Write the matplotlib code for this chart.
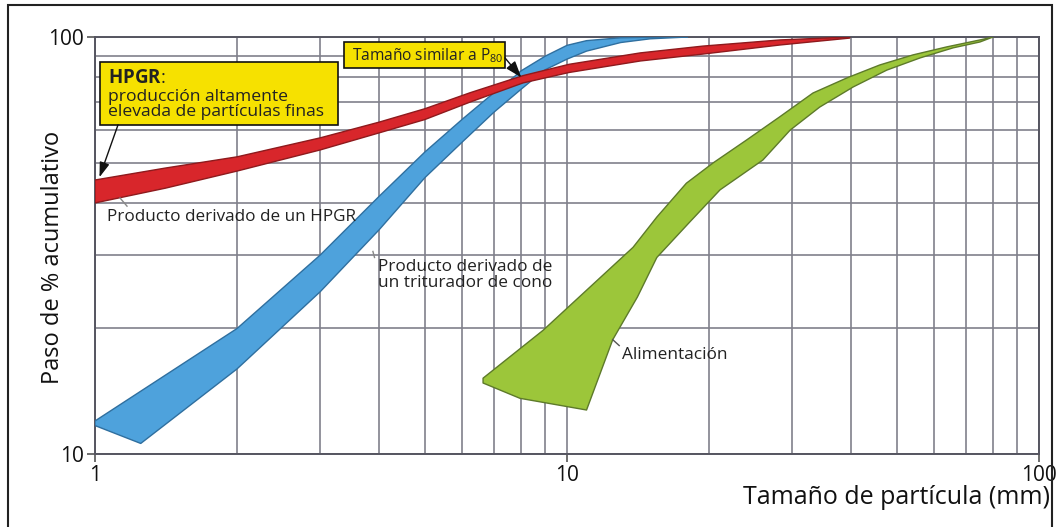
import matplotlib
matplotlib.use("Agg")
import matplotlib.pyplot as plt
from matplotlib.patches import Rectangle
from matplotlib.ticker import LogLocator, NullFormatter, FixedLocator, FixedFormatter

plt.rcParams['font.family'] = ['Open Sans', 'DejaVu Sans']
plt.rcParams['mathtext.fontset'] = 'custom'
plt.rcParams['mathtext.rm'] = 'Open Sans'
plt.rcParams['mathtext.bf'] = 'Open Sans:bold'

# --- Curve envelopes (particle size in mm, cumulative % passing) ---
# HPGR product band
red_top_x = [1, 1.41, 2, 3, 4, 5, 6.23, 8.07, 10.1, 14.3, 19.4, 28.3, 39.7]
red_top_y = [45.4, 48.5, 51.6, 57.3, 62.5, 67.3, 73.5, 80.8, 86.0, 91.6, 95.1, 98.4, 100]
red_bot_x = [1, 1.41, 2, 3, 4, 5, 6.23, 8.07, 10.1, 14.3, 19.4, 28.3, 39.7]
red_bot_y = [40.0, 43.4, 47.7, 53.6, 58.9, 63.4, 69.8, 77.6, 82.2, 87.6, 91.0, 95.7, 99.4]

# Cone crusher product band
blue_top_x = [1, 2, 3, 4, 5, 6, 7, 7.7, 8, 9, 10, 11, 13, 17]
blue_top_y = [12.0, 20.0, 30.0, 41.5, 53.0, 63.5, 73.5, 80.0, 83.0, 90.0, 95.5, 98.0, 99.6, 100]
blue_bot_x = [1, 1.25, 2, 3, 4, 5, 6, 7, 8, 8.63, 9, 10, 11, 13, 15, 18]
blue_bot_y = [11.7, 10.6, 16.0, 24.5, 34.5, 46.0, 56.0, 66.0, 75.0, 80.5, 83.5, 88.5, 92.5, 97.0, 99.0, 100]

# Feed band
green_top_x = [6.64, 8.9, 11.0, 13.8, 15.5, 17.9, 20.4, 24.0, 28.2, 33.2, 39.2, 46.0, 54.1, 63.8, 75.0, 79.9]
green_top_y = [15.2, 19.8, 24.7, 31.3, 37.0, 44.6, 49.9, 56.6, 64.3, 73.4, 79.8, 85.7, 90.6, 94.7, 98.4, 100]
green_bot_x = [6.64, 7.95, 11.0, 12.5, 14.1, 15.5, 18.2, 21.1, 26.0, 29.7, 34.3, 40.4, 47.6, 56.0, 65.8, 75.0, 79.9]
green_bot_y = [14.8, 13.6, 12.75, 18.8, 23.8, 29.6, 36.0, 43.0, 50.7, 59.8, 67.9, 75.9, 83.3, 89.1, 94.2, 97.3, 100]

x_ticks = [1, 10, 100]
x_tick_labels = ["1", "10", "100"]
y_ticks = [10, 100]
y_tick_labels = ["10", "100"]

fig = plt.figure(figsize=(10.6, 5.27), dpi=100)
ax = fig.add_axes([95 / 1060, 1 - 454 / 527, (1039 - 95) / 1060, (454 - 37) / 527])
ax.set_xscale('log')
ax.set_yscale('log')
ax.set_xlim(1, 100)
ax.set_ylim(10, 100)

grid_col = '#80808a'
ax.xaxis.set_major_locator(FixedLocator(x_ticks))
ax.xaxis.set_major_formatter(FixedFormatter(x_tick_labels))
ax.yaxis.set_major_locator(FixedLocator(y_ticks))
ax.yaxis.set_major_formatter(FixedFormatter(y_tick_labels))
ax.xaxis.set_minor_locator(LogLocator(base=10, subs=range(2, 10)))
ax.yaxis.set_minor_locator(LogLocator(base=10, subs=range(2, 10)))
ax.xaxis.set_minor_formatter(NullFormatter())
ax.yaxis.set_minor_formatter(NullFormatter())
ax.grid(True, which='both', color=grid_col, lw=1.4, alpha=0.85)
ax.set_axisbelow(True)
ax.tick_params(which='major', length=6, width=1.2, color='#555555',
               labelsize=15, pad=2, labelcolor='#111111')
ax.tick_params(which='minor', length=0)
for s in ax.spines.values():
    s.set_color('#555560')
    s.set_linewidth(1.4)


def band(xt, yt, xb, yb, face, edge):
    xs = list(xt) + list(xb)[::-1]
    ys = list(yt) + list(yb)[::-1]
    ax.fill(xs, ys, facecolor=face, edgecolor=edge, lw=1.0, joinstyle='round', zorder=3)


band(green_top_x, green_top_y, green_bot_x, green_bot_y, '#9cc63a', '#5d7a2a')
band(blue_top_x, blue_top_y, blue_bot_x, blue_bot_y, '#4ea2dc', '#2f6f9f')
band(red_top_x, red_top_y, red_bot_x, red_bot_y, '#d8262b', '#8e1a1d')

ax.set_ylabel('Paso de % acumulativo', fontsize=17, color='#111111')
ax.yaxis.set_label_coords(-0.0447, 0.472)
ax.yaxis.label.set_verticalalignment('center')
ax.set_xlabel('Tamaño de partícula (mm)', fontsize=18, color='#111111')
ax.xaxis.set_label_coords(1.0117, -0.1055)
ax.xaxis.label.set_horizontalalignment('right')
ax.xaxis.label.set_verticalalignment('center')

# Callout boxes
box_face = '#f6e100'
ax.add_patch(Rectangle((1.0247, 61.6), 3.273 - 1.0247, 87.1 - 61.6, facecolor=box_face,
                       edgecolor='#111111', lw=1.2, zorder=6))
ax.text(1.0655, 79.7, r'$\mathbf{HPGR}$:', fontsize=13.5, va='center', ha='left',
        color='#222222', zorder=7)
ax.text(1.0655, 68.8, 'producción altamente\nelevada de partículas finas', fontsize=12.6,
        va='center', ha='left', linespacing=0.95, color='#222222', zorder=7)

ax.add_patch(Rectangle((3.368, 84.3), 7.39 - 3.368, 97.2 - 84.3, facecolor=box_face,
                       edgecolor='#111111', lw=1.2, zorder=6))
ax.text(3.50, 90.3, r'Tamaño similar a P$_{80}$', fontsize=11.2, va='center', ha='left',
        color='#222222', zorder=7)

ax.annotate('', xy=(1.022, 46.1), xytext=(1.119, 61.6),
            arrowprops=dict(arrowstyle='-|>,head_length=0.9,head_width=0.3', color='#111111',
                            lw=1.0, shrinkA=0, shrinkB=0),
            zorder=7)
ax.annotate('', xy=(8.0, 80.0), xytext=(7.39, 89.1),
            arrowprops=dict(arrowstyle='-|>,head_length=1.0,head_width=0.35', color='#111111',
                            lw=1.0, shrinkA=0, shrinkB=0),
            zorder=7)

# Curve labels with short leader lines
ax.text(1.06, 37.0, 'Producto derivado de un HPGR', fontsize=12.3, va='center', ha='left',
        color='#222222', zorder=6)
ax.plot([1.13, 1.169], [41.1, 39.3], color='#888888', lw=1.0, zorder=6)
ax.text(3.98, 26.9, 'Producto derivado de\nun triturador de cono', fontsize=12.4, va='center',
        ha='left', linespacing=1.0, color='#222222', zorder=6)
ax.plot([3.88, 3.91], [30.6, 29.6], color='#888888', lw=1.0, zorder=6)
ax.text(13.1, 17.3, 'Alimentación', fontsize=12.4, va='center', ha='left', color='#222222',
        zorder=6)
ax.plot([12.5, 12.9], [18.8, 18.2], color='#555555', lw=1.0, zorder=6)

# Frame around the whole figure
fig.patches.append(Rectangle((8 / 1060, -0.02), (1052 - 8) / 1060, 1.02 - 5 / 527,
                             transform=fig.transFigure, fill=False, edgecolor='#222222', lw=1.5))

fig.savefig('out.png', dpi=100)
